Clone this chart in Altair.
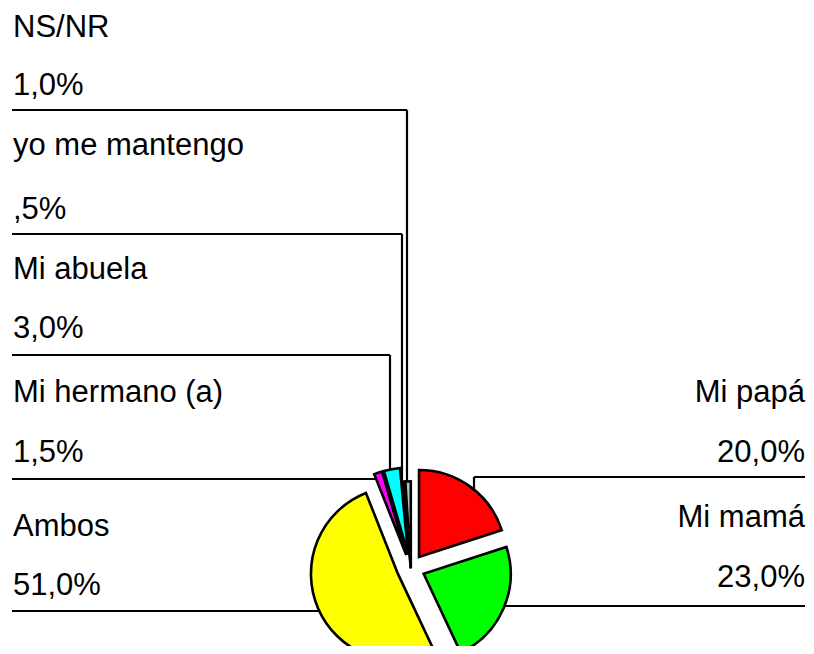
import math
import pandas as pd
import altair as alt

# ---------------- data ----------------
categories = ["Mi papá", "Mi mamá", "Ambos", "Mi hermano (a)", "Mi abuela", "yo me mantengo", "NS/NR"]
values = [20.0, 23.0, 51.0, 1.5, 3.0, 0.5, 1.0]
value_labels = ["20,0%", "23,0%", "51,0%", "1,5%", "3,0%", ",5%", "1,0%"]

# ---------------- style / layout ----------------
colors = ["#FF0000", "#00FF00", "#FFFF00", "#FF00FF", "#00FFFF", "#000080", "#C0C0C0"]
explode = [14, 14, 14, 14, 14, 0, 0]
OFF = 8                     # page margin
W, H = 798, 638
CX, CY = 410.8 - OFF, 568.3 - OFF
R = 87
FONT = "Liberation Sans"
FS = 31
LEFT_X, RIGHT_X = 13 - OFF, 805 - OFF

# side, name baseline, value baseline (page px)
label_pos = {
    "NS/NR": ("left", 37, 95),
    "yo me mantengo": ("left", 155, 219),
    "Mi abuela": ("left", 279, 338),
    "Mi hermano (a)": ("left", 402, 462),
    "Ambos": ("left", 536, 595),
    "Mi papá": ("right", 402, 462),
    "Mi mamá": ("right", 527, 587),
}

# leader segments (page px): x1, y1, x2, y2
leaders = [
    (12, 110, 407, 110), (407, 110, 407, 486),
    (12, 234, 402, 234), (402, 234, 402, 483),
    (12, 355, 390, 355), (390, 355, 390, 478),
    (12, 479, 380, 479),
    (12, 611, 335, 611),
    (805, 477, 474, 477), (474, 477, 474, 498),
    (805, 606, 495, 606),
]

# ---------------- tables ----------------
pie_df = pd.DataFrame({
    "categoria": categories,
    "valor": values,
    "orden": list(range(len(categories))),
    "explode": explode,
})

rows = []
for cat, lab in zip(categories, value_labels):
    side, nb, vb = label_pos[cat]
    x = LEFT_X if side == "left" else RIGHT_X
    rows.append({"texto": cat, "tx": x, "ty": nb - OFF, "side": side})
    rows.append({"texto": lab, "tx": x, "ty": vb - OFF, "side": side})
text_df = pd.DataFrame(rows)

seg_df = pd.DataFrame(
    [{"x1": a - OFF, "y1": b - OFF, "x2": c - OFF, "y2": d - OFF} for a, b, c, d in leaders]
)

# ---------------- chart ----------------
rules = alt.Chart(seg_df).mark_rule(color="black", strokeWidth=2.2).encode(
    x=alt.X("x1:Q", scale=None, axis=None),
    x2="x2:Q",
    y=alt.Y("y1:Q", scale=None, axis=None),
    y2="y2:Q",
)

pie = (
    alt.Chart(pie_df)
    .transform_window(cum="sum(valor)", sort=[alt.SortField("orden")], frame=[None, 0])
    .transform_calculate(
        start="datum.cum - datum.valor",
        mid="(datum.cum - datum.valor / 2) / 100 * 2 * PI",
        px=f"{CX} + datum.explode * sin(datum.mid)",
        py=f"{CY} - datum.explode * cos(datum.mid)",
    )
    .mark_arc(radius=R, stroke="black", strokeWidth=2.6)
    .encode(
        theta=alt.Theta("start:Q", scale=alt.Scale(domain=[0, 100], range=[0, 2 * math.pi]), stack=None),
        theta2="cum:Q",
        x=alt.X("px:Q", scale=None, axis=None),
        y=alt.Y("py:Q", scale=None, axis=None),
        color=alt.Color("categoria:N", scale=alt.Scale(domain=categories, range=colors), legend=None),
    )
)

text_left = (
    alt.Chart(text_df)
    .transform_filter("datum.side == 'left'")
    .mark_text(align="left", baseline="alphabetic", font=FONT, fontSize=FS, color="black")
    .encode(
        x=alt.X("tx:Q", scale=None, axis=None),
        y=alt.Y("ty:Q", scale=None, axis=None),
        text="texto:N",
    )
)

text_right = (
    alt.Chart(text_df)
    .transform_filter("datum.side == 'right'")
    .mark_text(align="right", baseline="alphabetic", font=FONT, fontSize=FS, color="black")
    .encode(
        x=alt.X("tx:Q", scale=None, axis=None),
        y=alt.Y("ty:Q", scale=None, axis=None),
        text="texto:N",
    )
)

chart = (
    alt.layer(rules, pie, text_left, text_right)
    .properties(width=W, height=H, padding=0, autosize="none", background="white")
    .configure_view(stroke=None)
)

chart.save("out.html", embed_options={"renderer": "svg", "actions": False})
